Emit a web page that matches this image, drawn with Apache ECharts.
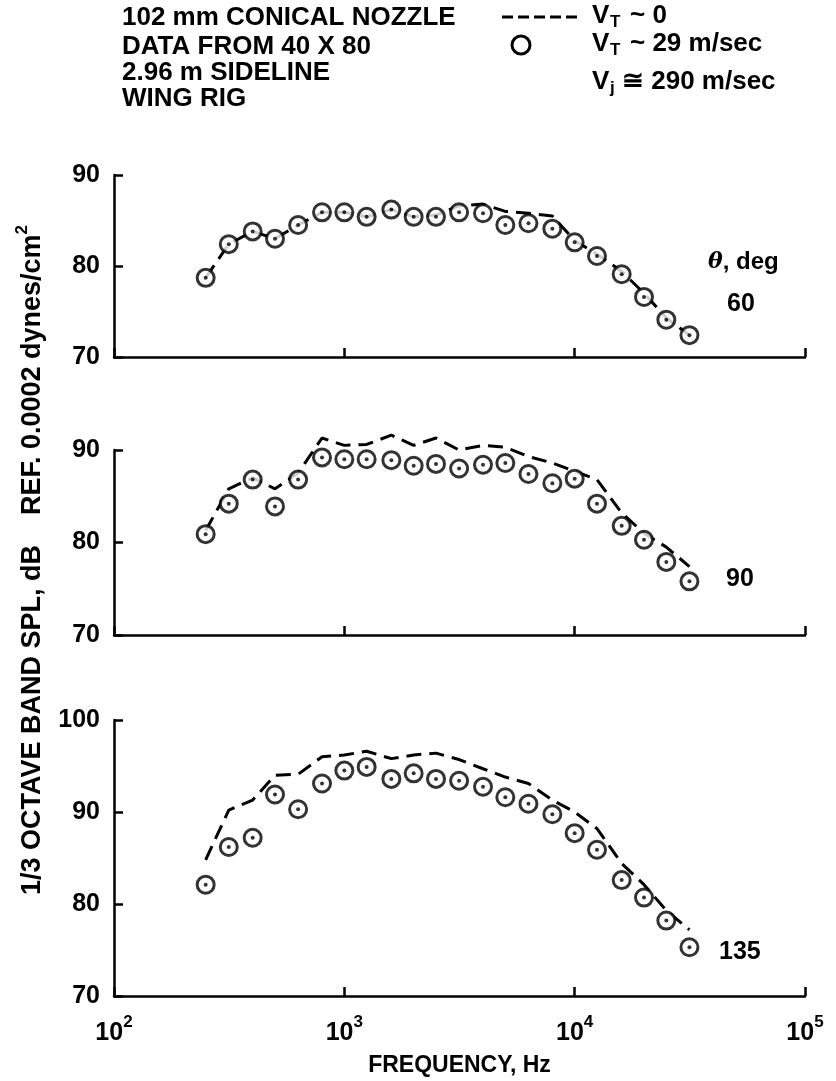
<!DOCTYPE html>
<html><head><meta charset="utf-8">
<script src="https://cdn.jsdelivr.net/npm/echarts@6/dist/echarts.min.js"></script>
<style>html,body{margin:0;padding:0;background:#fff}#c{width:836px;height:1081px}</style>
</head><body><div id="c"></div>
<script>
const freqs = [250,315,400,500,630,800,1000,1250,1600,2000,2500,3150,4000,5000,6300,8000,10000,12500,16000,20000,25000,31500];
const p60Circle = [78.7,82.4,83.8,83.0,84.5,85.9,85.9,85.4,86.2,85.4,85.4,85.9,85.8,84.5,84.7,84.1,82.6,81.1,79.1,76.6,74.1,72.4];
const p60Dash   = [78.7,82.4,83.8,83.0,84.5,85.9,85.9,85.4,86.2,85.4,85.6,86.6,86.8,86.0,85.8,85.5,82.8,81.3,79.4,77.0,74.3,72.4];
const p90Circle = [80.9,84.2,86.8,83.9,86.8,89.2,89.0,89.0,88.9,88.3,88.5,88.0,88.4,88.6,87.4,86.4,86.9,84.2,81.8,80.3,77.9,75.8];
const p90Dash   = [81.3,85.8,87.0,85.8,87.5,91.3,90.5,90.6,91.6,90.5,91.3,90.0,90.5,90.3,89.3,88.6,87.7,86.8,83.2,81.0,79.5,77.4];
const p135Circle= [82.1,86.2,87.2,91.9,90.3,93.1,94.5,94.9,93.6,94.2,93.6,93.4,92.75,91.6,90.9,89.75,87.7,85.9,82.6,80.7,78.2,75.3];
const p135Dash  = [84.8,90.2,91.3,94.0,94.1,96.0,96.2,96.6,95.8,96.2,96.4,95.7,94.7,93.8,93.1,91.3,90.0,88.2,84.4,82.1,79.3,77.2];
const yRanges = [[70,90],[70,90],[70,100]];
const angleLabels = ['60','90','135'];
const xTickExps = {100:'2',1000:'3',10000:'4',100000:'5'};

const FONT = 'Liberation Sans';
const chart = echarts.init(document.getElementById('c'));
const grids = [
  {left:114, width:691, top:175, height:182},
  {left:114, width:691, top:450, height:185},
  {left:114, width:691, top:720, height:276}
];
const pair = (arr) => freqs.map((f,i)=>[f,arr[i]]);
const panels = [[p60Dash,p60Circle],[p90Dash,p90Circle],[p135Dash,p135Circle]];

const xAxes = grids.map((g,i)=>({
  gridIndex:i, type:'log', logBase:10, min:100, max:100000,
  axisLine:{show:true,lineStyle:{color:'#000',width:2.5}},
  axisTick:{show:true,inside:true,length:9,lineStyle:{color:'#000',width:2.5}},
  splitLine:{show:false},
  axisLabel:{show:i===2, margin:18, color:'#000',
    formatter:(v)=>'{b|10}{s|'+(xTickExps[Math.round(v)]||'')+'}',
    rich:{b:{fontFamily:FONT,fontSize:25,fontWeight:'bold',color:'#000',verticalAlign:'bottom',lineHeight:32},
          s:{fontFamily:FONT,fontSize:17,fontWeight:'bold',color:'#000',verticalAlign:'top',lineHeight:32}}},
  name: i===2 ? 'FREQUENCY, Hz' : '', nameLocation:'middle', nameGap:58,
  nameTextStyle:{fontFamily:FONT,fontSize:23,fontWeight:'bold',color:'#000'}
}));
const yAxes = grids.map((g,i)=>({
  gridIndex:i, type:'value', min:yRanges[i][0], max:yRanges[i][1], interval:10,
  axisLine:{show:true,lineStyle:{color:'#000',width:2.5}},
  axisTick:{show:true,inside:true,length:9,lineStyle:{color:'#000',width:2.5}},
  splitLine:{show:false},
  axisLabel:{margin:14,color:'#000',fontFamily:FONT,fontSize:25,fontWeight:'bold'}
}));
const series = [];
panels.forEach((p,i)=>{
  series.push({type:'line', xAxisIndex:i, yAxisIndex:i, data:pair(p[0]), showSymbol:false, symbol:'none',
    clip:false, lineStyle:{color:'#000',width:3,type:[15,8]}, z:2, silent:true});
  series.push({type:'scatter', xAxisIndex:i, yAxisIndex:i, data:pair(p[1]), symbol:'circle', symbolSize:17,
    clip:false, itemStyle:{color:'#fff',borderColor:'#000',borderWidth:3}, z:3, silent:true});
  series.push({type:'scatter', xAxisIndex:i, yAxisIndex:i, data:pair(p[1]), symbol:'circle', symbolSize:4,
    clip:false, itemStyle:{color:'#000'}, z:4, silent:true});
});

const txt = (x,y,text,size,extra) => Object.assign({type:'text', left:x, top:y,
  style:{text:text, fontFamily:FONT, fontSize:size, fontWeight:'bold', fill:'#000'}}, extra||{});
const graphic = [
  txt(122,5,'102 mm CONICAL NOZZLE',26),
  txt(122,34,'DATA FROM 40 X 80',26),
  txt(122,60,'2.96 m SIDELINE',26),
  txt(122,86,'WING RIG',26),
  {type:'line', shape:{x1:502,y1:17,x2:580,y2:17}, style:{stroke:'#000',lineWidth:3,lineDash:[11,5]}},
  txt(592,3,'V',26), txt(610,14,'T',17), txt(630,3,'~ 0',26),
  {type:'circle', shape:{cx:521,cy:45,r:9}, style:{stroke:'#000',lineWidth:3,fill:'#fff'}},
  txt(592,31,'V',26), txt(610,42,'T',17), txt(630,31,'~ 29 m/sec',26),
  txt(592,69,'V',26), txt(610,80,'j',17), txt(622,69,'\u2245 290 m/sec',26),
  {type:'text', left:708, top:250, style:{rich:{i:{fontFamily:'DejaVu Serif',fontStyle:'italic',fontSize:22,fontWeight:'bold',fill:'#000'},
     n:{fontFamily:FONT,fontSize:24,fontWeight:'bold',fill:'#000'}}, text:'{i|\u03b8}{n|, deg}'}},
  txt(727,292,angleLabels[0],25),
  txt(726,567,angleLabels[1],25),
  txt(719,940,angleLabels[2],25),
  {type:'text', x:30, y:560, rotation:Math.PI/2,
    style:{text:'{a|1/3 OCTAVE BAND SPL, dB    REF. 0.0002 dynes/cm}{s|2}', align:'center', verticalAlign:'middle',
      rich:{a:{fontFamily:FONT,fontSize:27,fontWeight:'bold',fill:'#000',verticalAlign:'bottom',lineHeight:32},
            s:{fontFamily:FONT,fontSize:17,fontWeight:'bold',fill:'#000',verticalAlign:'top',lineHeight:32}}}}
];

chart.setOption({
  backgroundColor:'#fff', animation:false,
  grid:grids, xAxis:xAxes, yAxis:yAxes, series:series, graphic:graphic
});
</script></body></html>
